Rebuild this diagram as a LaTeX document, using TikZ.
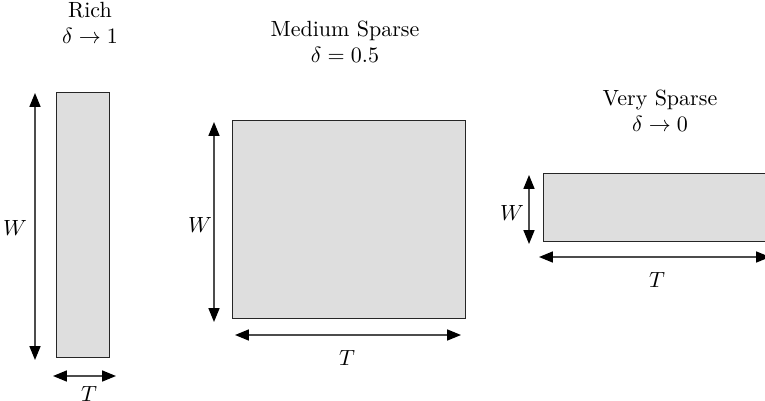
\documentclass[tikz,border=0pt]{standalone}
\usetikzlibrary{arrows.meta}
\begin{document}
\begin{tikzpicture}[x=0.4545pt,y=-0.4545pt,
  block/.style={draw=black!85,fill=black!13,line width=0.45pt},
  dim/.style={{Triangle[length=6.3pt,width=5pt,color=black]}-{Triangle[length=6.3pt,width=5pt,color=black]},line width=0.6pt,draw=black!70},
  lbl/.style={font=\normalsize,inner sep=0pt,align=center}]
\useasboundingbox (0,0) rectangle (765,400);
% Rich
\draw[block] (56,92) rectangle (109,357);
\coordinate (rA) at (35,93); \coordinate (rB) at (35,360);
\coordinate (rC) at (53,376); \coordinate (rD) at (116,376);
\draw[dim] (rA) -- (rB);
\draw[dim] (rC) -- (rD);
\node[lbl] (rW) at (15,228) {$W$};
\node[lbl] (rT) at (89,394) {$T$};
\node[lbl] (rt) at (90,23) {Rich\\$\delta\rightarrow1$};
% Medium
\draw[block] (232,120) rectangle (465,318);
\coordinate (mA) at (214,122); \coordinate (mB) at (214,322);
\coordinate (mC) at (235,335); \coordinate (mD) at (461,335);
\draw[dim] (mA) -- (mB);
\draw[dim] (mC) -- (mD);
\node[lbl] (mW) at (200,225) {$W$};
\node[lbl] (mT) at (347,358) {$T$};
\node[lbl] (mt) at (345,42) {Medium Sparse\\$\delta=0.5$};
% Very sparse
\draw[block] (543,173) rectangle (770,241);
\coordinate (vA) at (529,175); \coordinate (vB) at (529,244);
\coordinate (vC) at (539,257); \coordinate (vD) at (770,257);
\draw[dim] (vA) -- (vB);
\draw[dim] (vC) -- (vD);
\node[lbl] (vW) at (512,213) {$W$};
\node[lbl] (vT) at (657,280) {$T$};
\node[lbl] (vt) at (660,111) {Very Sparse\\$\delta\rightarrow0$};
\end{tikzpicture}
\end{document}
